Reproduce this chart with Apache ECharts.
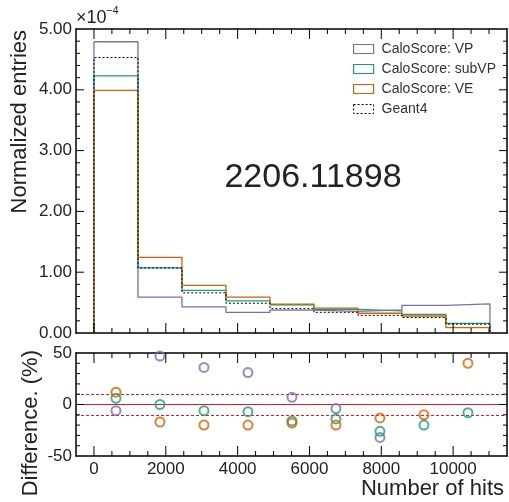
<!DOCTYPE html>
<html>
<head>
<meta charset="utf-8">
<script src="https://cdn.jsdelivr.net/npm/echarts@6/dist/echarts.min.js"></script>
</head>
<body style="margin:0">
<div id="main" style="width:509px;height:502px"></div>
<script>
// bin edges of the hit-count histogram
const binEdges = [0, 1225, 2450, 3675, 4900, 6125, 7350, 8575, 9800, 11025];

// normalized entries, in units of 1e-4
const vpVals = [4.79, 0.59, 0.43, 0.34, 0.375, 0.355, 0.38, 0.455, 0.48];
const subvpVals = [4.23, 1.07, 0.70, 0.53, 0.465, 0.39, 0.365, 0.305, 0.157];
const veVals = [3.99, 1.245, 0.784, 0.59, 0.475, 0.41, 0.325, 0.28, 0.09];
const geantVals = [4.53, 1.07, 0.66, 0.49, 0.40, 0.34, 0.29, 0.255, 0.145];

// difference panel (%), null = off scale
const vpDiff = [-6, 47, 36, 31, 7, -4, -32, null, null];
const subvpDiff = [6, 0, -6, -7, -16, -14, -26, -20, -8];
const veDiff = [12, -17, -20, -20, -18, -20, -13, -10, 40];
const refLevels = [0, 10, -10];

// tick positions (ROOT style ticks on all four sides)
const xMajorTicks = [0, 2000, 4000, 6000, 8000, 10000];
const xMinorTicks = [500, 1000, 1500, 2500, 3000, 3500, 4500, 5000, 5500, 6500, 7000, 7500, 8500, 9000, 9500, 10500, 11000];
const topMajorTicks = [1, 2, 3, 4];
const topMinorTicks = [0.2, 0.4, 0.6, 0.8, 1.2, 1.4, 1.6, 1.8, 2.2, 2.4, 2.6, 2.8, 3.2, 3.4, 3.6, 3.8, 4.2, 4.4, 4.6, 4.8];
const diffMajorTicks = [0];
const diffMinorTicks = [-40, -30, -20, -10, 10, 20, 30, 40];

const names = ['CaloScore: VP', 'CaloScore: subVP', 'CaloScore: VE', 'Geant4'];
const colors = ['#7570b3', '#1b9e77', '#d95f02', '#000000'];

const font = '"Liberation Sans", Arial, sans-serif';
const ink = '#222';
const X_MIN = -500, X_MAX = 11500;

// outline of a histogram: up at first edge, steps, down at last edge
function histLine(vals) {
  const pts = [[binEdges[0], 0]];
  vals.forEach((v, i) => {
    pts.push([binEdges[i], v]);
    pts.push([binEdges[i + 1], v]);
  });
  pts.push([binEdges[binEdges.length - 1], 0]);
  return pts;
}

function centers(vals) {
  return vals.map((v, i) => [(binEdges[i] + binEdges[i + 1]) / 2, v]);
}

const frame = { show: true, onZero: false, lineStyle: { color: '#000', width: 1.5 } };

function xAxes(grid, withLabels) {
  const base = {
    type: 'value', gridIndex: grid, min: X_MIN, max: X_MAX,
    splitNumber: 6, minInterval: 2000, maxInterval: 2000,
    axisLine: frame, splitLine: { show: false }, axisTick: { show: false }
  };
  return [
    { ...base, position: 'bottom', axisLabel: withLabels ? {
        show: true, fontSize: 17, color: ink, fontFamily: font, margin: 5,
        showMinLabel: false, showMaxLabel: false, formatter: v => String(v)
      } : { show: false } },
    { ...base, position: 'top', axisLabel: { show: false } }
  ];
}

function yAxes(grid, min, max, interval, fmt) {
  const base = {
    type: 'value', gridIndex: grid, min: min, max: max, interval: interval,
    axisLine: frame, splitLine: { show: false }, axisTick: { show: false }
  };
  const label = { fontSize: 17, color: ink, fontFamily: font, margin: 4 };
  if (fmt) label.formatter = fmt;
  return [
    { ...base, position: 'left', axisLabel: label },
    { ...base, position: 'right', axisLabel: { show: false } }
  ];
}

// short inward tick marks on both opposite frame sides, placed through the axes' scales
function tickSeries(xIdx, yIdx, ticks, dir, len, yMin, yMax) {
  const data = dir === 'x' ? ticks.map(v => [v, yMin]) : ticks.map(v => [X_MIN, v]);
  return {
    type: 'custom',
    xAxisIndex: xIdx,
    yAxisIndex: yIdx,
    silent: true,
    z: 10,
    data: data,
    renderItem: (params, api) => {
      const st = { stroke: '#000', lineWidth: 1 };
      if (dir === 'x') {
        const v = api.value(0);
        const b = api.coord([v, yMin]);
        const t = api.coord([v, yMax]);
        return { type: 'group', children: [
          { type: 'line', shape: { x1: b[0], y1: b[1], x2: b[0], y2: b[1] - len }, style: st },
          { type: 'line', shape: { x1: t[0], y1: t[1], x2: t[0], y2: t[1] + len }, style: st }
        ] };
      }
      const v = api.value(1);
      const l = api.coord([X_MIN, v]);
      const r = api.coord([X_MAX, v]);
      return { type: 'group', children: [
        { type: 'line', shape: { x1: l[0], y1: l[1], x2: l[0] + len, y2: l[1] }, style: st },
        { type: 'line', shape: { x1: r[0], y1: r[1], x2: r[0] - len, y2: r[1] }, style: st }
      ] };
    }
  };
}

const histSets = [vpVals, subvpVals, veVals, geantVals];
const diffSets = [vpDiff, subvpDiff, veDiff];

const series = [];
histSets.forEach((vals, i) => {
  series.push({
    name: names[i],
    type: 'line',
    xAxisIndex: 0,
    yAxisIndex: 0,
    data: histLine(vals),
    showSymbol: false,
    color: colors[i],
    lineStyle: i === 3
      ? { color: '#000', width: 1, type: [2, 2] }
      : { color: colors[i], width: 1.3 },
    z: 2 + i
  });
});

series.push({
  type: 'line',
  xAxisIndex: 2,
  yAxisIndex: 2,
  data: [],
  markLine: {
    silent: true,
    symbol: 'none',
    label: { show: false },
    lineStyle: { color: '#e41a1c', width: 1.2 },
    data: refLevels.map(v => ({ yAxis: v, lineStyle: { type: v === 0 ? 'solid' : [3, 2] } }))
  },
  z: 1
});

diffSets.forEach((vals, i) => {
  series.push({
    name: names[i],
    type: 'scatter',
    xAxisIndex: 2,
    yAxisIndex: 2,
    data: centers(vals).filter(p => p[1] !== null),
    symbol: 'circle',
    symbolSize: 9,
    itemStyle: { color: 'transparent', borderColor: colors[i], borderWidth: 2 },
    z: 5
  });
});

series.push(
  tickSeries(0, 0, xMajorTicks, 'x', 10, 0, 5),
  tickSeries(0, 0, xMinorTicks, 'x', 5, 0, 5),
  tickSeries(0, 0, topMajorTicks, 'y', 8),
  tickSeries(0, 0, topMinorTicks, 'y', 4),
  tickSeries(2, 2, xMajorTicks, 'x', 10, -50, 50),
  tickSeries(2, 2, xMinorTicks, 'x', 5, -50, 50),
  tickSeries(2, 2, diffMajorTicks, 'y', 8),
  tickSeries(2, 2, diffMinorTicks, 'y', 4)
);

const option = {
  animation: false,
  grid: [
    { left: 76, top: 29, width: 431, height: 304 },
    { left: 76, top: 353, width: 431, height: 103 }
  ],
  xAxis: [...xAxes(0, false), ...xAxes(1, true)],
  yAxis: [
    ...yAxes(0, 0, 5, 1, v => v.toFixed(2)),
    ...yAxes(1, -50, 50, 50, null)
  ],
  legend: {
    orient: 'vertical',
    left: 348,
    top: 37,
    itemWidth: 20,
    itemHeight: 9,
    itemGap: 6,
    textStyle: { fontSize: 14, lineHeight: 14, color: '#333', fontFamily: font, padding: [0, 0, 0, 3] },
    data: names.map((n, i) => ({
      name: n,
      icon: 'rect',
      itemStyle: {
        color: '#fff',
        borderColor: colors[i],
        borderWidth: i === 3 ? 1 : 1.2,
        borderType: i === 3 ? [2, 2] : 'solid'
      }
    }))
  },
  graphic: [
    { type: 'text', x: 76, y: 18.5, style: { text: '×10', fontSize: 18, fontFamily: font, fill: ink, verticalAlign: 'middle' } },
    { type: 'text', x: 106, y: 11, style: { text: '−4', fontSize: 11, fontFamily: font, fill: ink, verticalAlign: 'middle' } },
    { type: 'text', x: 31, y: 30, rotation: Math.PI / 2,
      style: { text: 'Normalized entries', fontSize: 22, fontFamily: font, fill: ink, align: 'right', verticalAlign: 'bottom' } },
    { type: 'text', x: 42, y: 350, rotation: Math.PI / 2,
      style: { text: 'Difference. (%)', fontSize: 22, fontFamily: font, fill: ink, align: 'right', verticalAlign: 'bottom' } },
    { type: 'text', x: 504, y: 489,
      style: { text: 'Number of hits', fontSize: 22, fontFamily: font, fill: ink, align: 'right', verticalAlign: 'middle' } },
    { type: 'text', x: 313, y: 178,
      style: { text: '2206.11898', fontSize: 34, fontFamily: font, fill: ink, align: 'center', verticalAlign: 'middle' } }
  ],
  series: series
};

const chart = echarts.init(document.getElementById('main'));
chart.setOption(option);
</script>
</body>
</html>
